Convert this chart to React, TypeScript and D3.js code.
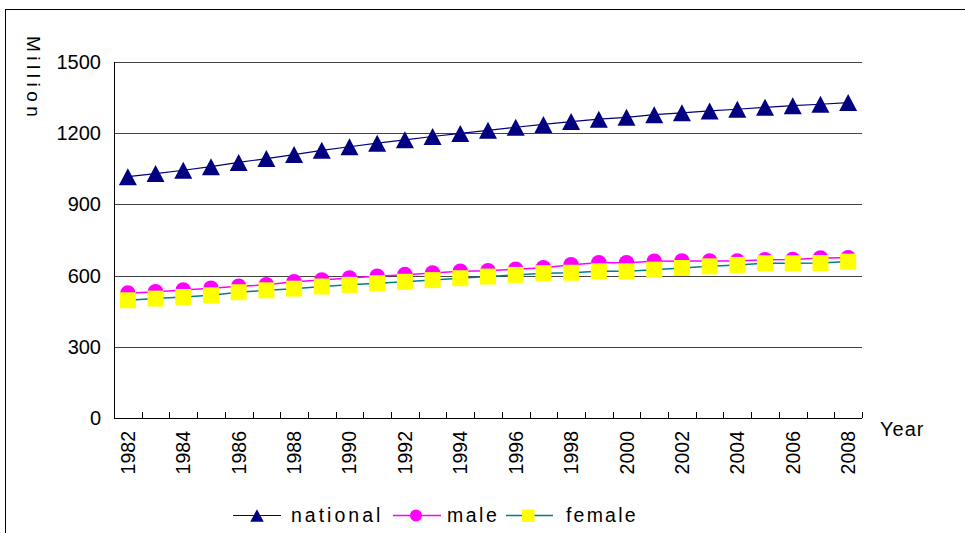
import React from "react";
import * as d3 from "d3";

// Population by year, millions
const years: number[] = [
  1982, 1983, 1984, 1985, 1986, 1987, 1988, 1989, 1990, 1991, 1992, 1993, 1994,
  1995, 1996, 1997, 1998, 1999, 2000, 2001, 2002, 2003, 2004, 2005, 2006, 2007, 2008,
];
const national: number[] = [
  1017, 1030, 1044, 1059, 1077, 1093, 1110, 1128, 1143, 1158, 1172, 1186, 1199,
  1212, 1225, 1237, 1249, 1259, 1267, 1278, 1286, 1294, 1301, 1309, 1316, 1322, 1329,
];
const male: number[] = [
  526, 532, 539, 547, 555, 561, 574, 581, 590, 597, 604, 611, 618,
  620, 627, 633, 646, 654, 654, 660, 661, 661, 661, 667, 668, 674, 675,
];
const female: number[] = [
  496, 503, 510, 517, 530, 538, 545, 554, 561, 568, 574, 581, 589,
  596, 603, 610, 612, 618, 618, 625, 632, 639, 645, 652, 652, 653, 659,
];
const yTicks: number[] = [0, 300, 600, 900, 1200, 1500];
const seriesNames: string[] = ["national", "male", "female"];

const W = 965;
const H = 533;
const plot = { left: 114, right: 862, top: 62, bottom: 418 };

// Upward triangle centred on its bounding box
function triangle(w: number, h: number): string {
  const p = d3.path();
  p.moveTo(0, -h / 2);
  p.lineTo(w / 2, h / 2);
  p.lineTo(-w / 2, h / 2);
  p.closePath();
  return p.toString();
}

export default function App() {
  const x = d3
    .scaleBand<number>()
    .domain(years)
    .range([plot.left, plot.right]);
  const cx = (yr: number) => (x(yr) as number) + x.bandwidth() / 2;
  const y = d3.scaleLinear().domain([0, 1500]).range([plot.bottom, plot.top]);

  const line = (vals: number[]) =>
    d3
      .line<number>()
      .x((_, i) => cx(years[i]))
      .y((v) => y(v))(vals) as string;

  const font = "'Liberation Sans', Arial, sans-serif";

  const boundaries = [...years.map((yr) => x(yr) as number), plot.right];
  const bigTri = triangle(18, 17);
  const smallTri = triangle(13.5, 12.5);

  return (
    <svg
      width={W}
      height={H}
      style={{ position: "absolute", left: 0, top: 0, background: "#fff" }}
      fontFamily={font}
    >
      {/* outer frame */}
      <rect x={5.5} y={9.5} width={1000} height={600} fill="none" stroke="#000" strokeWidth={1} />

      {/* gridlines */}
      {yTicks
        .filter((t) => t > 0)
        .map((t) => (
          <line
            key={t}
            x1={plot.left}
            x2={plot.right}
            y1={Math.round(y(t)) + 0.5}
            y2={Math.round(y(t)) + 0.5}
            stroke="#444"
            strokeWidth={1}
          />
        ))}

      {/* axes */}
      <line x1={plot.left + 0.5} x2={plot.left + 0.5} y1={plot.top} y2={plot.bottom} stroke="#000" />
      <line x1={plot.left} x2={plot.right} y1={plot.bottom + 0.5} y2={plot.bottom + 0.5} stroke="#000" />
      {boundaries.map((bx, i) => (
        <line
          key={i}
          x1={Math.round(bx) + 0.5}
          x2={Math.round(bx) + 0.5}
          y1={plot.bottom - 6}
          y2={plot.bottom}
          stroke="#000"
        />
      ))}

      {/* y tick labels */}
      {yTicks.map((t) => (
        <text key={t} x={101} y={y(t)} dy="0.35em" textAnchor="end" fontSize={20} fill="#000">
          {t}
        </text>
      ))}

      {/* x tick labels */}
      {years
        .filter((yr) => yr % 2 === 0)
        .map((yr) => (
          <text
            key={yr}
            transform={`translate(${cx(yr) + 7},${431}) rotate(-90)`}
            textAnchor="end"
            fontSize={19.5}
            fill="#000"
          >
            {yr}
          </text>
        ))}

      {/* axis titles */}
      <text transform="translate(27,36) rotate(90)" fontSize={19} letterSpacing={4.5} fill="#000">
        Million
      </text>
      <text x={880} y={436} fontSize={20} letterSpacing={1} fill="#000">
        Year
      </text>

      {/* national */}
      <path d={line(national)} fill="none" stroke="#000080" strokeWidth={1.2} />
      {national.map((v, i) => (
        <path
          key={i}
          d={bigTri}
          transform={`translate(${cx(years[i])},${y(v)})`}
          fill="#000080"
        />
      ))}

      {/* male */}
      <path d={line(male)} fill="none" stroke="#FF00FF" strokeWidth={1.5} />
      {male.map((v, i) => (
        <circle key={i} cx={cx(years[i])} cy={y(v)} r={7.8} fill="#FF00FF" />
      ))}

      {/* female */}
      <path d={line(female)} fill="none" stroke="#008080" strokeWidth={1.5} />
      {female.map((v, i) => (
        <rect key={i} x={cx(years[i]) - 8} y={y(v) - 8} width={16} height={16} fill="#FFFF00" />
      ))}

      {/* legend */}
      <g>
        <line x1={233} x2={281} y1={515.5} y2={515.5} stroke="#000080" strokeWidth={1.2} />
        <path d={smallTri} transform="translate(257,515.5)" fill="#000080" />
        <text x={291} y={522} fontSize={19.5} letterSpacing={3} fill="#000">
          {seriesNames[0]}
        </text>

        <line x1={393} x2={441} y1={515.5} y2={515.5} stroke="#FF00FF" strokeWidth={1.5} />
        <circle cx={416} cy={515.5} r={6} fill="#FF00FF" />
        <text x={447} y={522} fontSize={19.5} letterSpacing={2.5} fill="#000">
          {seriesNames[1]}
        </text>

        <line x1={506} x2={553} y1={515.5} y2={515.5} stroke="#008080" strokeWidth={1.5} />
        <rect x={522} y={509.5} width={12.5} height={12.5} fill="#FFFF00" />
        <text x={566} y={522} fontSize={19.5} letterSpacing={2.2} fill="#000">
          {seriesNames[2]}
        </text>
      </g>
    </svg>
  );
}
